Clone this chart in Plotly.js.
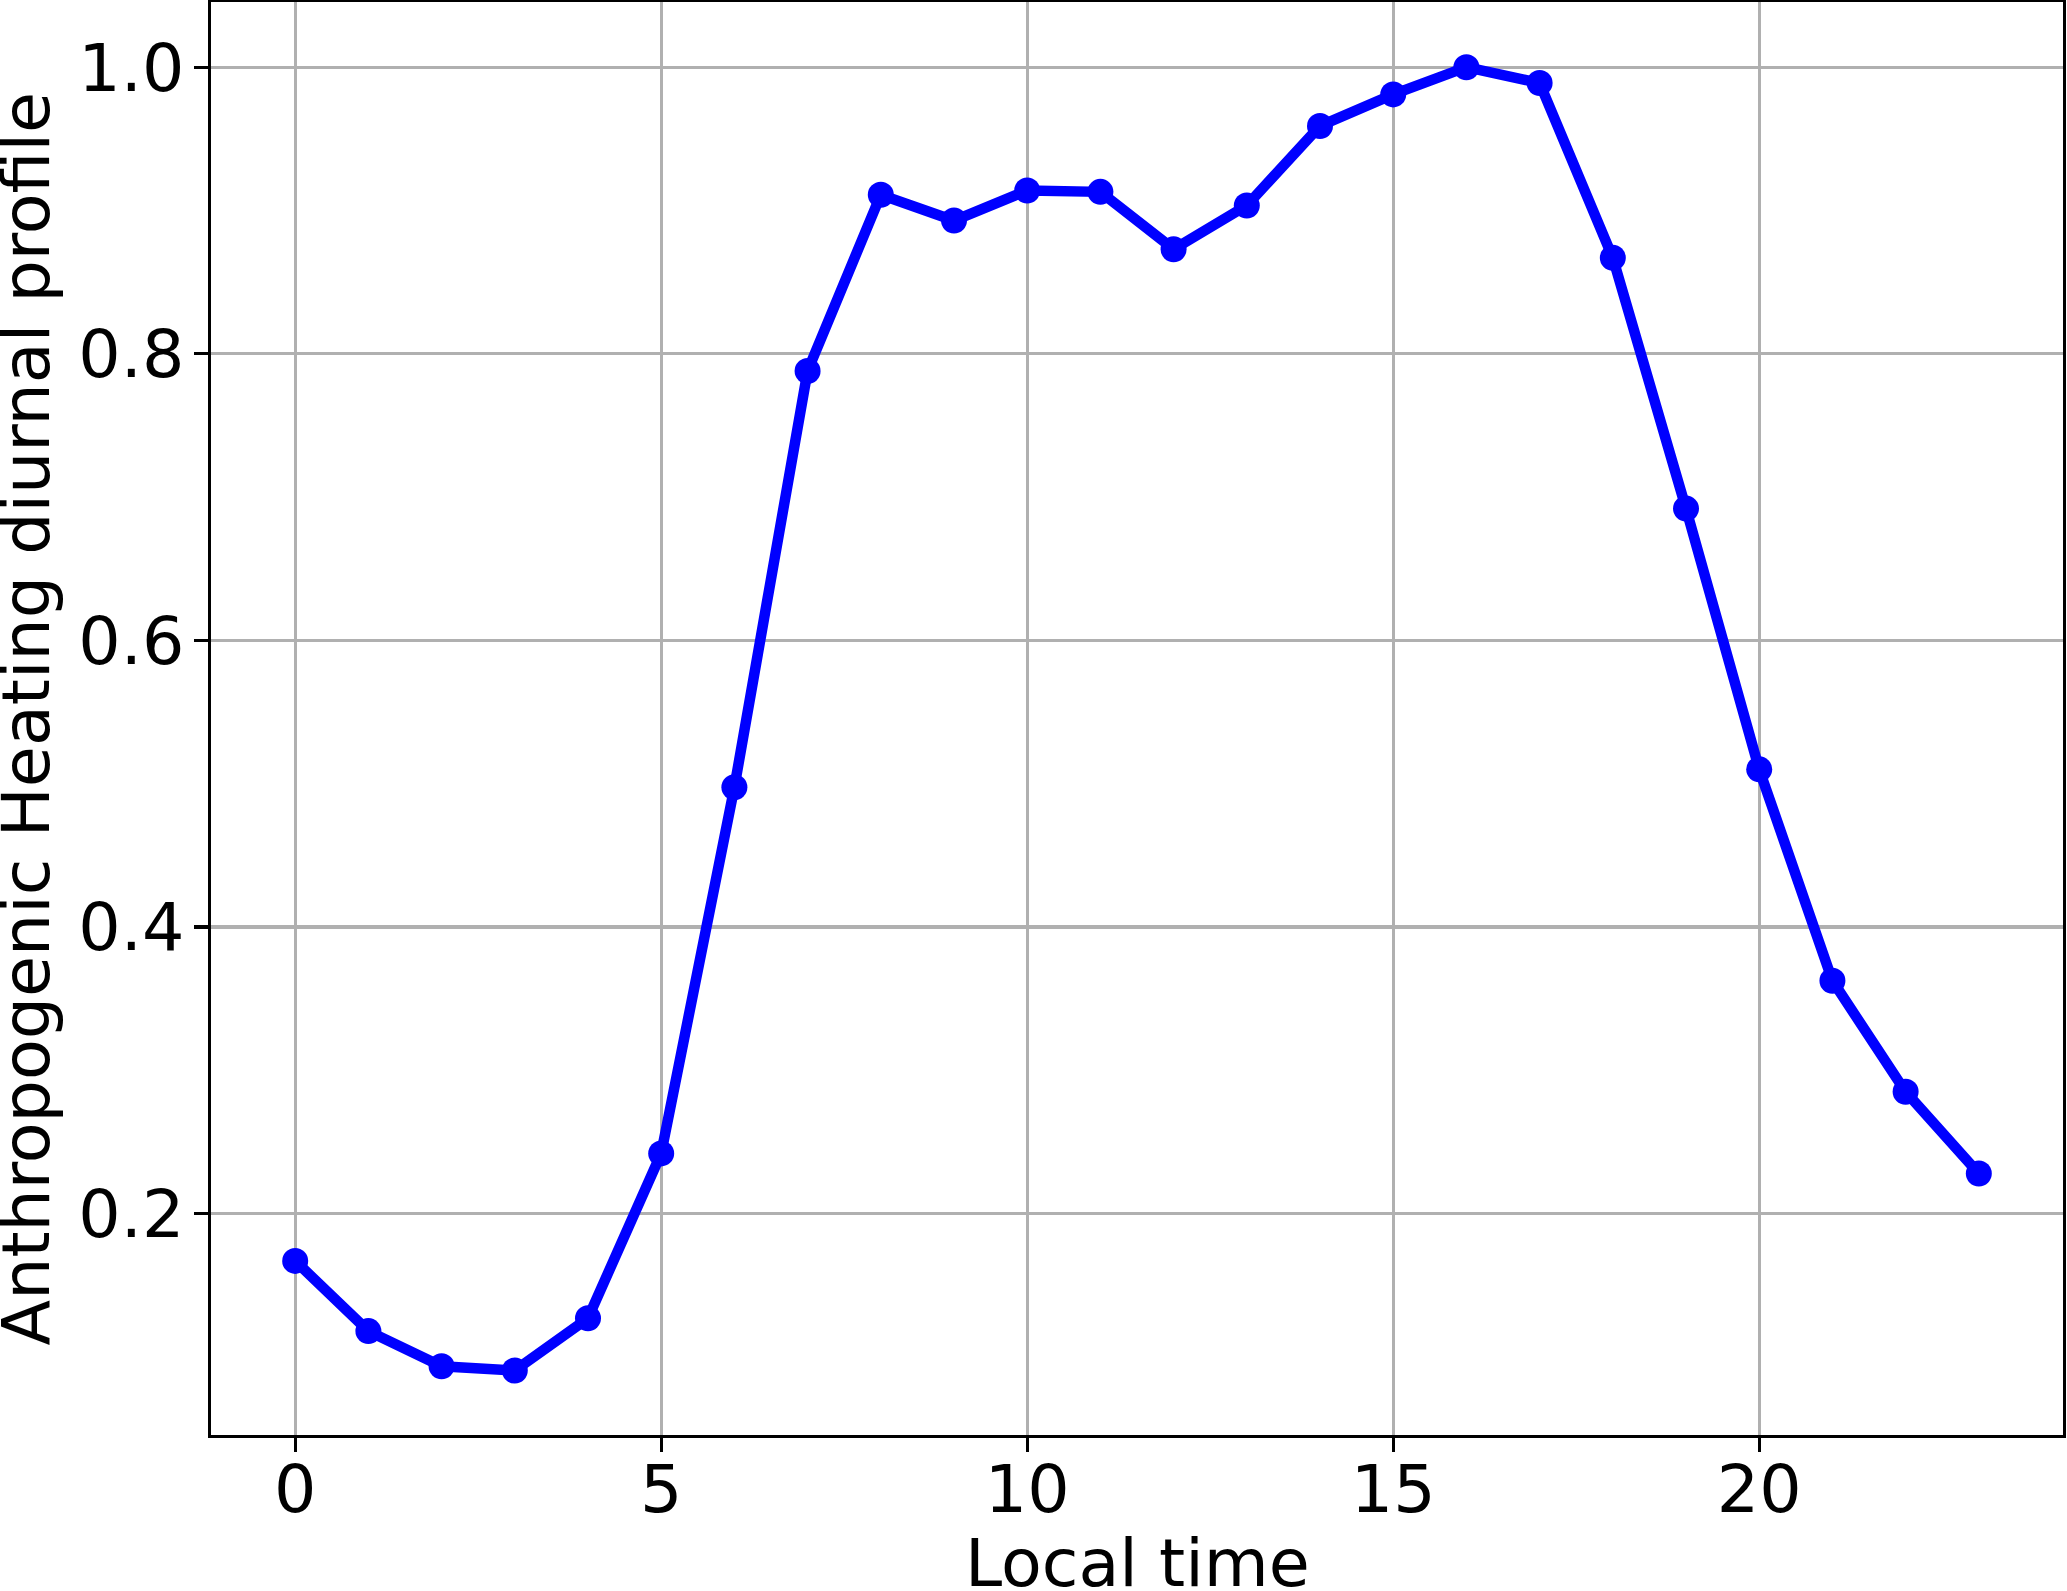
<!DOCTYPE html>
<html>
<head>
<meta charset="utf-8">
<script src="https://cdn.plot.ly/plotly-3.0.1.min.js"></script>
<style>html,body{margin:0;padding:0;background:#fff;}#chart{width:2067px;height:1591px;}</style>
</head>
<body>
<div id="chart"></div>
<script>
const hours = [0,1,2,3,4,5,6,7,8,9,10,11,12,13,14,15,16,17,18,19,20,21,22,23];
const profile = [0.167,0.118,0.0935,0.0905,0.127,0.242,0.4975,0.788,0.911,0.893,0.914,0.913,0.873,0.9035,0.959,0.981,1.0,0.989,0.867,0.692,0.510,0.3625,0.285,0.228];
const xTicks = [0,5,10,15,20];
const yTicks = [0.2,0.4,0.6,0.8,1.0];
const yTickText = ['0.2','0.4','0.6','0.8','1.0'];
const xLabel = 'Local time';
const yLabel = 'Anthropogenic Heating diurnal profile';

const font = {family: 'DejaVu Sans, sans-serif', size: 66.7, color: '#000'};

const trace = {
  x: hours, y: profile, type: 'scatter', mode: 'lines+markers',
  line: {color: '#0000ff', width: 10.5},
  marker: {color: '#0000ff', size: 26},
  hoverinfo: 'skip'
};

const layout = {
  width: 2067, height: 1591,
  margin: {l: 211, r: 4, t: 2, b: 156, pad: 0},
  paper_bgcolor: '#fff', plot_bgcolor: '#fff',
  font: font,
  showlegend: false,
  xaxis: {
    range: [-1.15, 24.15],
    tickmode: 'array', tickvals: xTicks, ticktext: xTicks.map(String),
    showgrid: true, gridcolor: '#b0b0b0', gridwidth: 3.3,
    zeroline: false,
    showline: true, mirror: true, linecolor: '#000', linewidth: 3.3,
    ticks: 'outside', ticklen: 14, tickwidth: 3.3, tickcolor: '#000',
    tickfont: font,
    ticklabelstandoff: -20,
    title: {text: '', font: font}
  },
  yaxis: {
    range: [0.0455, 1.0455],
    tickmode: 'array', tickvals: yTicks, ticktext: yTickText,
    showgrid: true, gridcolor: '#b0b0b0', gridwidth: 3.3,
    zeroline: false,
    showline: true, mirror: true, linecolor: '#000', linewidth: 3.3,
    ticks: 'outside', ticklen: 14, tickwidth: 3.3, tickcolor: '#000',
    tickfont: font,
    ticklabelstandoff: -4,
    title: {text: '', font: font}
  },
  annotations: [{
    text: xLabel, xref: 'paper', yref: 'paper', x: 0.5, y: -0.0895,
    xanchor: 'center', yanchor: 'middle', showarrow: false, font: font
  }, {
    text: yLabel, xref: 'paper', yref: 'paper', x: -0.0999, y: 0.5,
    xanchor: 'center', yanchor: 'middle', textangle: -90, showarrow: false, font: font
  }]
};

Plotly.newPlot('chart', [trace], layout, {staticPlot: true, displayModeBar: false});
</script>
</body>
</html>
